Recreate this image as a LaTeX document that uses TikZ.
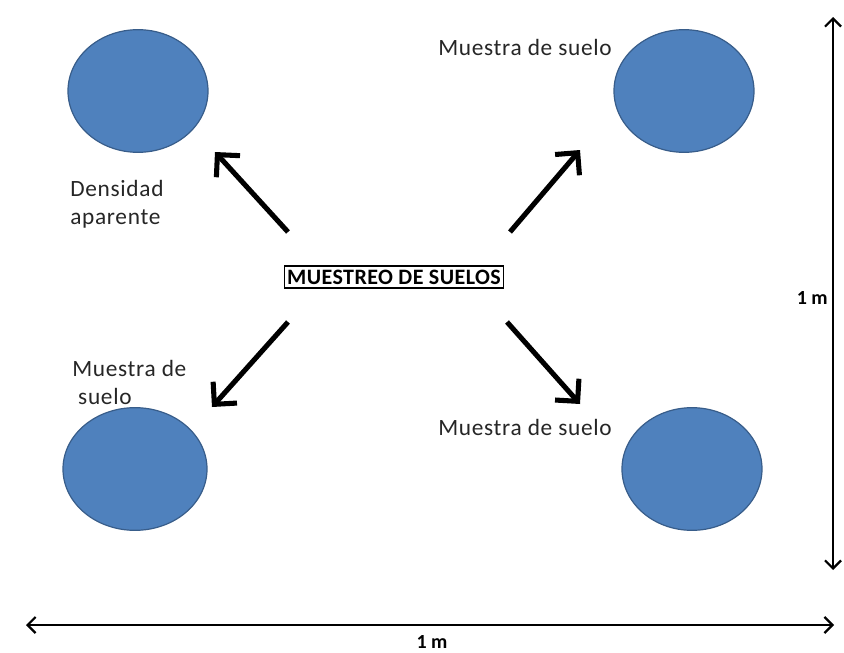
\documentclass[tikz,border=0pt]{standalone}
\usepackage{fontspec}
\setmainfont{Carlito}
\newfontfamily\spacedfont[LetterSpace=3]{Carlito}
\usetikzlibrary{arrows.meta,shapes.geometric}
\definecolor{sample}{HTML}{4F81BD}
\definecolor{sampleedge}{HTML}{385D8A}
\tikzset{
  pit/.style={ellipse, fill=sample, draw=sampleedge, line width=0.9pt,
    minimum width=105pt, minimum height=92pt, inner sep=0pt},
  lbl/.style={font=\spacedfont\fontsize{17.5}{21}\selectfont, text=black!85, inner sep=0pt},
  bigarrow/.style={line width=3.8pt, -{Straight Barb[length=12pt,width=24pt,line width=3.8pt]}},
  dimline/.style={line width=1.6pt, {Straight Barb[length=6pt,width=12pt]}-{Straight Barb[length=6pt,width=12pt]}},
  dimlbl/.style={font=\bfseries\fontsize{15}{18}\selectfont, inner sep=0pt}
}
\begin{document}
\begin{tikzpicture}[x=0.75pt,y=-0.75pt]
\useasboundingbox (0,0) rectangle (844,653);
% sample pits
\node[pit] (tl) at (138,91) {};
\node[pit] (tr) at (684,91) {};
\node[pit, minimum width=108pt] (bl) at (135,469) {};
\node[pit] (br) at (692,469) {};
% centre box
\node[draw, line width=1.3pt, inner xsep=2pt, inner ysep=3pt,
      font=\bfseries\fontsize{16.5}{19}\selectfont\addfontfeatures{LetterSpace=2}] (box) at (394,277) {MUESTREO DE SUELOS};
% arrow ends
\coordinate (tlA) at (288,232); \coordinate (tlB) at (215,152);
\coordinate (trA) at (510,232); \coordinate (trB) at (580,150);
\coordinate (blA) at (288,322); \coordinate (blB) at (212,407);
\coordinate (brA) at (507,322); \coordinate (brB) at (580,404);
\draw[bigarrow] (tlA) -- (tlB);
\draw[bigarrow] (trA) -- (trB);
\draw[bigarrow] (blA) -- (blB);
\draw[bigarrow] (brA) -- (brB);
% labels
\node[lbl, anchor=west, align=left] (lda) at (70,204) {Densidad\\aparente};
\node[lbl, anchor=west] (ltr) at (438,47) {Muestra de suelo};
\node[lbl, anchor=west, align=left] (lbl) at (72,382) {Muestra de\\\ suelo};
\node[lbl, anchor=west] (lbr) at (438,427) {Muestra de suelo};
% dimension lines
\coordinate (vt) at (833,17); \coordinate (vb) at (833,570);
\draw[dimline] (vt) -- (vb);
\node[dimlbl, anchor=east] (vlab) at (828,298) {1 m};
\coordinate (hl) at (26,625); \coordinate (hr) at (834,625);
\draw[dimline] (hl) -- (hr);
\node[dimlbl] (hlab) at (432,642) {1 m};
\end{tikzpicture}
\end{document}
